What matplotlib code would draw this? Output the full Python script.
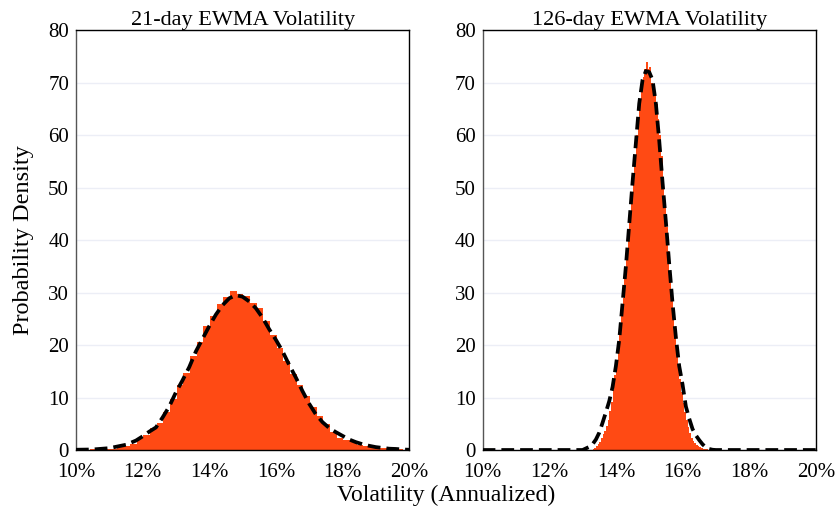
import numpy as np
import matplotlib
matplotlib.use("Agg")
import matplotlib.pyplot as plt
from matplotlib.ticker import PercentFormatter, MultipleLocator

# histogram of the 21-day vol, bins of 0.2% starting at 10.42%
short_bin_start = 10.42
short_bin_width = 0.2
short_hist = [0.1, 0.1, 0.15, 0.2, 0.5, 0.8, 1.2, 2.2, 2.9, 4.1, 5.2, 7.3,
              9.7, 12.4, 14.6, 17.9, 20.5, 23.6, 25.5, 27.8, 29.1, 30.2, 29.8,
              29.4, 28.1, 27.0, 24.6, 21.9, 19.5, 17.0, 14.4, 12.3, 10.2, 8.1,
              6.5, 5.0, 3.5, 2.3, 1.9, 1.5, 1.0, 0.7, 0.5, 0.4, 0.3, 0.2, 0.1]

# fitted density, 21-day
short_fit_x = [10.0, 10.5, 11.0, 11.5, 11.8, 12.0, 12.2, 12.4, 12.6, 12.8,
               13.0, 13.2, 13.4, 13.6, 13.8, 14.0, 14.2, 14.4, 14.6, 14.8,
               15.0, 15.2, 15.4, 15.6, 15.8, 16.0, 16.2, 16.4, 16.6, 16.8,
               17.0, 17.2, 17.4, 17.6, 17.8, 18.0, 18.2, 18.4, 18.6, 18.8,
               19.0, 19.2, 19.4, 19.6, 19.8, 20.0]
short_fit_y = [0.05, 0.1, 0.35, 1.0, 1.8, 2.6, 3.5, 4.3, 6.2, 8.3,
               11.0, 13.3, 15.8, 18.8, 21.2, 23.6, 25.8, 27.6, 28.9, 29.5,
               29.2, 28.3, 27.0, 25.2, 23.0, 21.0, 18.8, 16.2, 13.8, 11.2,
               8.8, 6.8, 5.3, 4.2, 3.4, 2.7, 2.0, 1.5, 1.1, 0.8,
               0.55, 0.4, 0.25, 0.2, 0.1, 0.05]

# histogram of the 126-day vol, bins of 0.05% starting at 13.30%
long_bin_start = 13.30
long_bin_width = 0.05
long_hist = [0.2, 0.4, 0.7, 1.1, 1.6, 2.2, 3.0, 3.7, 4.5, 5.8,
             7.5, 9.2, 11.5, 14.2, 16.8, 19.5, 22.5, 25.5, 29.0, 32.5,
             37.0, 40.0, 44.0, 48.0, 52.0, 56.0, 60.0, 63.0, 66.0, 69.0,
             71.0, 72.5, 74.0, 72.5, 73.0, 70.0, 69.5, 68.0, 66.0, 63.0,
             60.0, 56.0, 51.5, 47.0, 42.5, 38.0, 33.5, 29.5, 25.5, 22.0,
             19.0, 16.0, 13.5, 11.0, 9.0, 7.2, 5.8, 4.4, 3.3, 2.3,
             1.7, 1.3, 1.0, 0.7, 0.5, 0.35, 0.25, 0.15, 0.1]

# fitted density, 126-day
long_fit_x = [10.0, 13.0, 13.1, 13.2, 13.3, 13.4, 13.5, 13.6, 13.7, 13.8,
              13.9, 14.0, 14.1, 14.2, 14.3, 14.4, 14.5, 14.6, 14.7, 14.8,
              14.9, 15.0, 15.1, 15.2, 15.3, 15.4, 15.5, 15.6, 15.7, 15.8,
              15.9, 16.0, 16.1, 16.2, 16.3, 16.4, 16.5, 16.6, 16.7, 16.8,
              16.9, 17.0, 20.0]
long_fit_y = [0.0, 0.0, 0.3, 0.6, 1.1, 2.0, 3.3, 5.2, 7.2, 9.3,
              12.0, 16.0, 21.0, 28.0, 35.0, 43.0, 51.0, 58.5, 66.0, 70.5,
              72.2, 72.0, 70.5, 66.0, 59.0, 51.0, 43.5, 35.5, 28.0, 21.5,
              16.0, 12.5, 8.3, 6.0, 4.0, 2.8, 1.9, 1.1, 0.5, 0.2,
              0.05, 0.0, 0.0]

titles = ["21-day EWMA Volatility", "126-day EWMA Volatility"]

BAR_COLOR = "#FF4A14"
GRID_COLOR = "#ECEEF6"

plt.rcParams['font.family'] = ['Liberation Serif', 'DejaVu Serif']

fig = plt.figure(figsize=(8.35, 5.14), dpi=100)
ax1 = fig.add_axes([0.091, 0.1245, 0.399, 0.817])
ax2 = fig.add_axes([0.578, 0.1245, 0.399, 0.817])

panels = [
    (ax1, short_bin_start, short_bin_width, short_hist, short_fit_x, short_fit_y),
    (ax2, long_bin_start, long_bin_width, long_hist, long_fit_x, long_fit_y),
]

for i, (ax, start, width, hist, fx, fy) in enumerate(panels):
    edges = (start + width * np.arange(len(hist) + 1)) / 100
    ax.stairs(hist, edges, fill=True, color=BAR_COLOR, lw=0, zorder=2)
    ax.plot(np.array(fx) / 100, fy, color='black', lw=2.7,
            dashes=(3.4, 1.6), zorder=3)

    ax.set_xlim(0.10, 0.20)
    ax.set_ylim(0, 80)
    ax.xaxis.set_major_locator(MultipleLocator(0.02))
    ax.xaxis.set_major_formatter(PercentFormatter(xmax=1, decimals=0))
    ax.yaxis.set_major_locator(MultipleLocator(10))
    ax.tick_params(length=0, labelsize=15)
    ax.tick_params(axis='x', pad=9)
    ax.tick_params(axis='y', pad=5)
    ax.grid(axis='y', color=GRID_COLOR, lw=1, zorder=0)
    ax.set_axisbelow(True)
    for sp in ax.spines.values():
        sp.set_color('black')
        sp.set_linewidth(1)
    ax.spines['left'].set_color('#555555')
    ax.set_title(titles[i], fontsize=16, pad=4)

ax1.set_ylabel("Probability Density", fontsize=17.5, labelpad=10)
fig.text(0.534, 0.015, "Volatility (Annualized)", ha='center', va='bottom',
         fontsize=17)

fig.savefig("out.png", dpi=100)
